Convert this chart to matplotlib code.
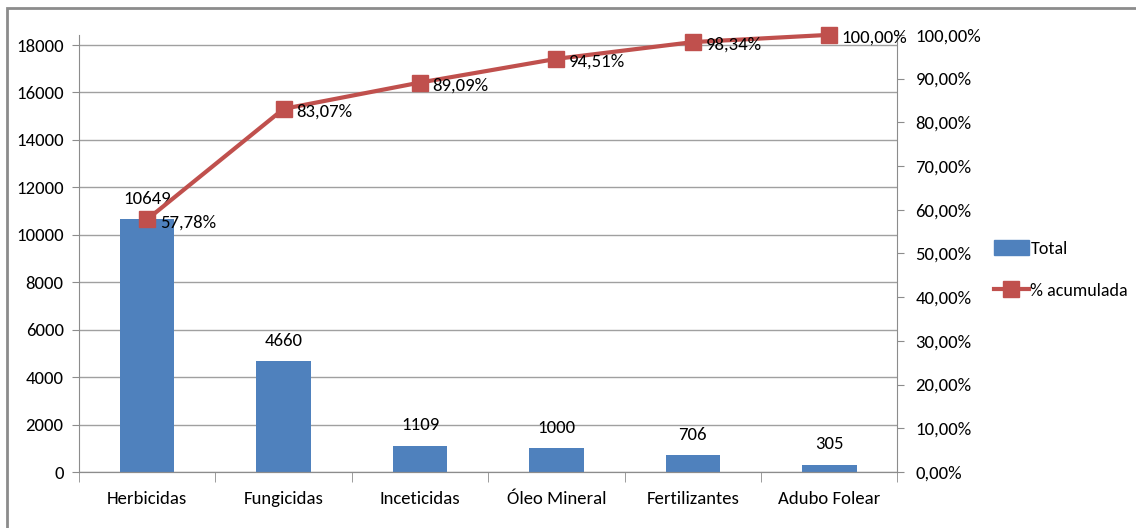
import matplotlib.pyplot as plt
from matplotlib.lines import Line2D
from matplotlib.patches import Patch, Rectangle

plt.rcParams['font.family'] = ['Carlito', 'DejaVu Sans']
plt.rcParams['font.size'] = 13.5

categorias = ["Herbicidas", "Fungicidas", "Inceticidas", "Óleo Mineral", "Fertilizantes", "Adubo Folear"]
total = [10649, 4660, 1109, 1000, 706, 305]
acumulada = [57.78, 83.07, 89.09, 94.51, 98.34, 100.00]

azul = "#4F81BD"
vermelho = "#C0504D"
cinza = "#8C8C8C"

fig = plt.figure(figsize=(11.36, 5.28), dpi=100)
ax = fig.add_axes([0.0695, 0.106, 0.7205, 0.828])
ax2 = ax.twinx()

x = list(range(len(categorias)))
ax.bar(x, total, width=0.4, color=azul, zorder=2)
for xi, v in zip(x, total):
    ax.annotate(str(v), (xi, v), xytext=(0, 9), textcoords="offset points",
                ha="center", va="bottom")

# eixo esquerdo vai até a soma total, como no Pareto do Excel
ax.set_xlim(-0.5, len(categorias) - 0.5)
ax.set_ylim(0, sum(total))
ax.set_yticks(range(0, 18001, 2000))
ax.grid(axis="y", color="#A0A0A0", linewidth=1, zorder=0)
ax.set_axisbelow(True)
ax.set_xticks(x)
ax.set_xticklabels(categorias)
ax.set_xticks([i - 0.5 for i in range(len(categorias) + 1)], minor=True)
ax.tick_params(axis="x", which="major", length=0, pad=14)
ax.tick_params(axis="x", which="minor", length=7, color=cinza)
ax.tick_params(axis="y", length=5, color=cinza, pad=6)

ax2.plot(x, acumulada, color=vermelho, linewidth=3, marker="s", markersize=11,
         zorder=3, clip_on=False)
for xi, v in zip(x, acumulada):
    ax2.annotate(f"{v:.2f}%".replace(".", ","), (xi, v), xytext=(9, -2),
                 textcoords="offset points", ha="left", va="center")
ax2.set_ylim(0, 100)
ax2.set_yticks(range(0, 101, 10))
ax2.set_yticklabels([f"{t},00%" for t in range(0, 101, 10)])
ax2.tick_params(axis="y", length=5, color=cinza, pad=8)

for a in (ax, ax2):
    a.spines["top"].set_visible(False)
    for s in a.spines.values():
        s.set_color(cinza)
ax2.spines["left"].set_visible(False)
ax.spines["right"].set_visible(False)

handles = [Patch(color=azul, label="Total"),
           Line2D([], [], color=vermelho, linewidth=3, marker="s", markersize=11,
                  label="% acumulada")]
fig.legend(handles=handles, loc="center left", bbox_to_anchor=(0.861, 0.49),
           frameon=False, fontsize=13, handlelength=1.9, handleheight=0.9,
           handletextpad=0.1, labelspacing=1.4)

fig.patches.append(Rectangle((0.006, -0.05), 1.1, 1.035, transform=fig.transFigure,
                             fill=False, edgecolor=cinza, linewidth=2))

fig.savefig("out.png", dpi=100)
